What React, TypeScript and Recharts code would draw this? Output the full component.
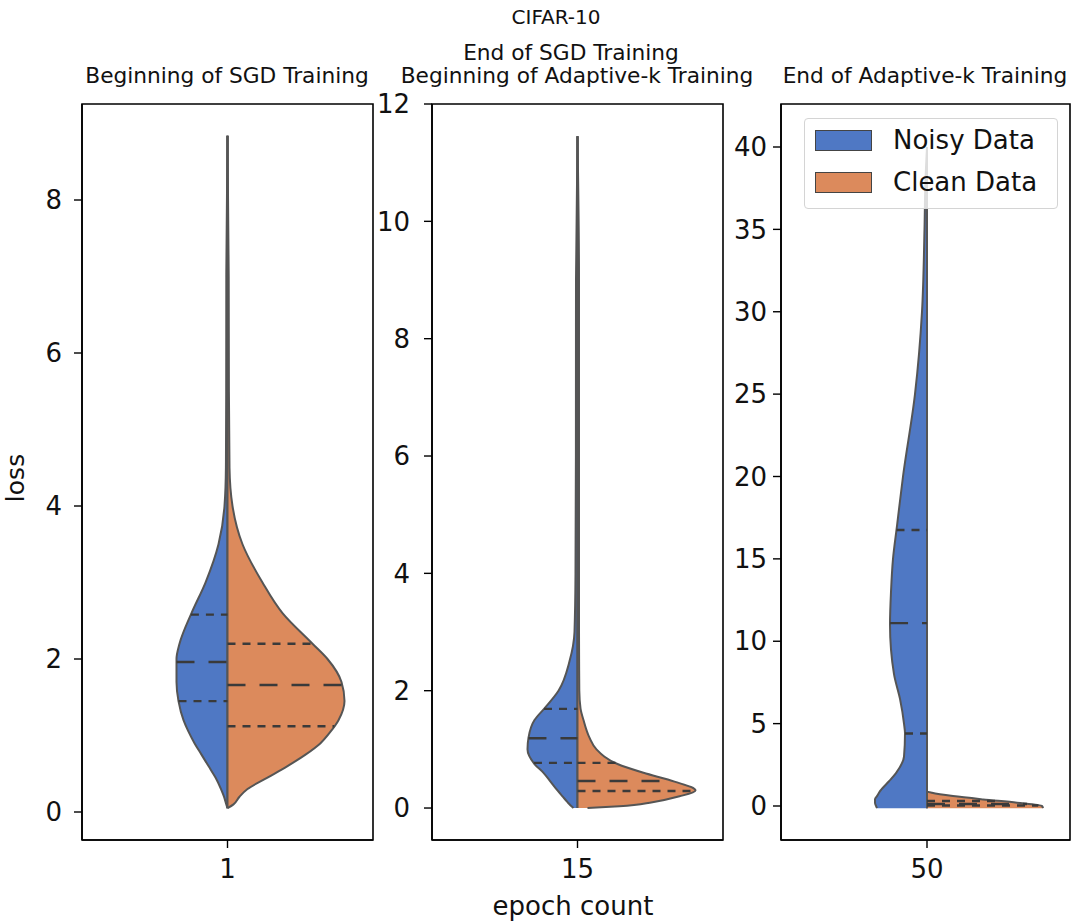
import React from "react";
import {
  ComposedChart,
  Area,
  XAxis,
  YAxis,
  ReferenceLine,
  ReferenceArea,
  Legend,
} from "recharts";

// ---- data (loss grid + half-widths of the KDE) ----

const seriesNames = ["Noisy Data", "Clean Data"];
const seriesColors = ["#4f78c4", "#dc8a5c"];
const epochLabels = ["1", "15", "50"];
const panelTitles = [
  "Beginning of SGD Training",
  "Beginning of Adaptive-k Training",
  "End of Adaptive-k Training",
];

// epoch 1
const lossGrid1 = [0.05, 0.1, 0.2, 0.3, 0.45, 0.6, 0.75, 0.9, 1.05, 1.2, 1.45, 1.7, 2.0, 2.2, 2.6, 3.0, 3.5, 4.0, 4.5, 5.5, 7.0, 8.84];
const noisyDensity1 = [0, 0.012, 0.035, 0.065, 0.12, 0.19, 0.26, 0.33, 0.39, 0.44, 0.49, 0.51, 0.51, 0.48, 0.36, 0.22, 0.09, 0.03, 0.016, 0.013, 0.012, 0];
const cleanDensity1 = [0, 0.06, 0.12, 0.2, 0.4, 0.6, 0.78, 0.93, 1.03, 1.11, 1.17, 1.14, 1.0, 0.85, 0.55, 0.35, 0.15, 0.05, 0.02, 0.014, 0.012, 0];
const noisyQuartiles1 = [1.45, 1.96, 2.58];
const cleanQuartiles1 = [1.12, 1.66, 2.2];

// epoch 15
const lossGrid15 = [0, 0.03, 0.1, 0.2, 0.3, 0.45, 0.6, 0.75, 1.0, 1.2, 1.5, 1.7, 2.0, 2.5, 3.0, 4.0, 6.0, 9.0, 11.45];
const noisyDensity15 = [0.04, 0.06, 0.1, 0.15, 0.2, 0.27, 0.34, 0.43, 0.5, 0.49, 0.43, 0.33, 0.19, 0.08, 0.03, 0.02, 0.016, 0.015, 0];
const cleanDensity15 = [0.1, 0.42, 0.75, 1.02, 1.18, 0.97, 0.66, 0.4, 0.19, 0.12, 0.06, 0.03, 0.018, 0.016, 0.015, 0.015, 0.015, 0.015, 0];
const noisyQuartiles15 = [0.77, 1.19, 1.69];
const cleanQuartiles15 = [0.29, 0.46, 0.77];

// epoch 50
const lossGrid50 = [-0.13, 0, 0.2, 0.4, 0.6, 0.8, 0.9, 1.5, 2.0, 3.0, 4.4, 5.0, 6.5, 8.0, 11.0, 13.0, 15.0, 17.0, 20.0, 25.0, 30.0, 35.0, 38.0, 40.0];
const noisyDensity50 = [0.5, 0.51, 0.52, 0.52, 0.5, 0.48, 0.47, 0.38, 0.31, 0.23, 0.22, 0.23, 0.27, 0.33, 0.37, 0.36, 0.34, 0.3, 0.24, 0.12, 0.05, 0.025, 0.015, 0];
const cleanDensity50 = [1.16, 1.15, 0.9, 0.56, 0.26, 0.05, 0, 0, 0, 0, 0, 0, 0, 0, 0, 0, 0, 0, 0, 0, 0, 0, 0, 0];
const noisyQuartiles50 = [4.4, 11.1, 16.75];
const cleanQuartiles50 = [0.03, 0.12, 0.3];

const FONT = "DejaVu Sans, Verdana, sans-serif";
const EDGE = "#555555";
const Y_AXIS_W = 80;

const panels = [
  {
    grid: lossGrid1, noisy: noisyDensity1, clean: cleanDensity1,
    nq: noisyQuartiles1, cq: cleanQuartiles1,
    plotLeft: 82, plotW: 291, xDomain: [-1.455, 1.455], yDomain: [-0.366, 9.255],
    yTicks: [0, 2, 4, 6, 8], tickGap: 12,
  },
  {
    grid: lossGrid15, noisy: noisyDensity15, clean: cleanDensity15,
    nq: noisyQuartiles15, cq: cleanQuartiles15,
    plotLeft: 432, plotW: 291, xDomain: [-1.455, 1.455], yDomain: [-0.545, 12],
    yTicks: [0, 2, 4, 6, 8, 10, 12], tickGap: 14,
  },
  {
    grid: lossGrid50, noisy: noisyDensity50, clean: cleanDensity50,
    nq: noisyQuartiles50, cq: cleanQuartiles50,
    plotLeft: 781, plotW: 289, xDomain: [-1.46, 1.43], yDomain: [-2.064, 42.61],
    yTicks: [0, 5, 10, 15, 20, 25, 30, 35, 40], tickGap: 6,
  },
];

// half width of a violin at loss q (linear between grid points)
function widthAt(grid: number[], dens: number[], q: number) {
  for (let i = 0; i < grid.length - 1; i++) {
    if (q >= grid[i] && q <= grid[i + 1]) {
      const t = (q - grid[i]) / (grid[i + 1] - grid[i]);
      return dens[i] + t * (dens[i + 1] - dens[i]);
    }
  }
  return 0;
}

const renderLegend = () => (
  <div
    style={{
      width: 254,
      height: 91,
      boxSizing: "border-box",
      border: "1px solid #d4d4d4",
      borderRadius: 4,
      background: "rgba(255,255,255,0.8)",
      position: "relative",
      fontFamily: FONT,
      fontSize: 26,
      color: "#111",
    }}
  >
    {seriesNames.map((name, i) => (
      <div
        key={name}
        style={{ position: "absolute", left: 10, top: 10 + i * 42, height: 22, display: "flex", alignItems: "center" }}
      >
        <span
          style={{
            display: "inline-block",
            width: 57,
            height: 21,
            boxSizing: "border-box",
            background: seriesColors[i],
            border: "1px solid #444",
          }}
        />
        <span style={{ marginLeft: 21, lineHeight: "22px", whiteSpace: "nowrap" }}>{name}</span>
      </div>
    ))}
  </div>
);

function Violin({ p, idx }: { p: (typeof panels)[number]; idx: number }) {
  const rows = p.grid.map((loss, i) => ({
    loss,
    noisy: [0, -p.noisy[i]],
    clean: [0, p.clean[i]],
  }));
  const chartW = Y_AXIS_W + p.plotW + 2;
  const tickStyle = { fill: "#111", fontSize: 26, fontFamily: FONT };

  return (
    <div style={{ position: "absolute", left: p.plotLeft - Y_AXIS_W, top: 0 }}>
      <ComposedChart
        width={chartW}
        height={924}
        data={rows}
        layout="vertical"
        margin={{ top: 104, right: 2, bottom: 44, left: 0 }}
      >
        <XAxis
          type="number"
          domain={p.xDomain}
          allowDataOverflow
          ticks={[0]}
          interval={0}
          tickFormatter={() => epochLabels[idx]}
          height={40}
          tickSize={8}
          tickMargin={12}
          tick={tickStyle}
          axisLine={{ stroke: "#000", strokeWidth: 1.6 }}
          tickLine={{ stroke: "#000", strokeWidth: 1.4 }}
        />
        <YAxis
          type="number"
          dataKey="loss"
          domain={p.yDomain}
          allowDataOverflow
          reversed
          ticks={p.yTicks}
          interval={0}
          width={Y_AXIS_W}
          tickSize={8}
          tickMargin={p.tickGap}
          tick={tickStyle}
          axisLine={{ stroke: "#000", strokeWidth: 1.6 }}
          tickLine={{ stroke: "#000", strokeWidth: 1.4 }}
        />
        <Area
          dataKey="noisy"
          name={seriesNames[0]}
          type="monotone"
          fill={seriesColors[0]}
          fillOpacity={1}
          stroke={EDGE}
          strokeWidth={2}
          dot={false}
          activeDot={false}
          isAnimationActive={false}
        />
        <Area
          dataKey="clean"
          name={seriesNames[1]}
          type="monotone"
          fill={seriesColors[1]}
          fillOpacity={1}
          stroke={EDGE}
          strokeWidth={2}
          dot={false}
          activeDot={false}
          isAnimationActive={false}
        />
        {p.nq.map((q, k) => (
          <ReferenceLine
            key={`nq-${k}`}
            segment={[
              { x: -widthAt(p.grid, p.noisy, q), y: q },
              { x: 0, y: q },
            ]}
            stroke="#3a3a3a"
            strokeWidth={2.4}
            strokeDasharray={k === 1 ? "18 14" : "8 7"}
          />
        ))}
        {p.cq.map((q, k) => (
          <ReferenceLine
            key={`cq-${k}`}
            segment={[
              { x: 0, y: q },
              { x: widthAt(p.grid, p.clean, q), y: q },
            ]}
            stroke="#3a3a3a"
            strokeWidth={2.4}
            strokeDasharray={k === 1 ? "18 14" : "8 7"}
          />
        ))}
        <ReferenceArea
          x1={p.xDomain[0]}
          x2={p.xDomain[1]}
          y1={p.yDomain[0]}
          y2={p.yDomain[1]}
          fill="none"
          stroke="#000"
          strokeWidth={1.6}
        />
        {idx === 2 && (
          <Legend
            layout="vertical"
            align="center"
            verticalAlign="middle"
            content={renderLegend}
            wrapperStyle={{ left: Y_AXIS_W + 23, top: 118, width: 254, height: 91 }}
          />
        )}
      </ComposedChart>
    </div>
  );
}

export default function App() {
  return (
    <div
      style={{
        position: "absolute",
        left: 0,
        top: 0,
        width: 1071,
        height: 924,
        overflow: "hidden",
        background: "#fff",
      }}
    >
      <svg width={1071} height={924} style={{ position: "absolute", left: 0, top: 0 }}>
        <g fontFamily={FONT} fill="#111" textAnchor="middle">
          <text x={556} y={24} fontSize={20}>CIFAR-10</text>
          <text x={571} y={60} fontSize={21.7}>End of SGD Training</text>
          <text x={227} y={83} fontSize={21.7}>{panelTitles[0]}</text>
          <text x={577} y={83} fontSize={21.7}>{panelTitles[1]}</text>
          <text x={925} y={83} fontSize={21.7}>{panelTitles[2]}</text>
          <text x={573} y={915} fontSize={26}>epoch count</text>
          <text x={24} y={478} fontSize={25} transform="rotate(-90 24 478)">loss</text>
        </g>
      </svg>
      {panels.map((p, i) => (
        <Violin key={i} p={p} idx={i} />
      ))}
    </div>
  );
}
